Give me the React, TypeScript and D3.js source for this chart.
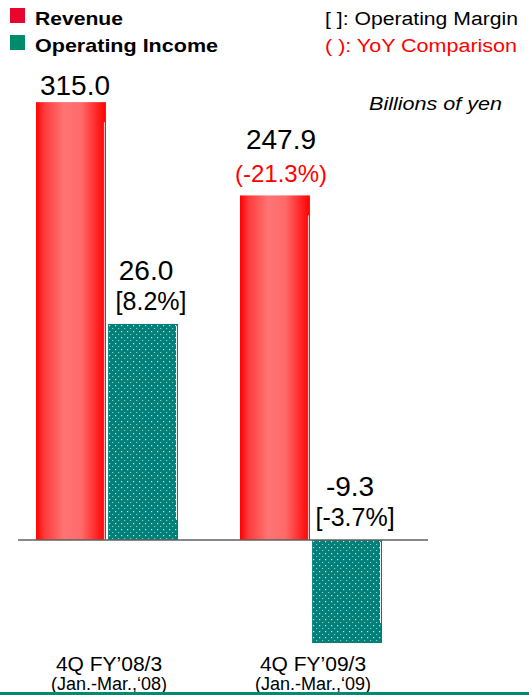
import React from "react";
import * as d3 from "d3";

const categories = ["4Q FY’08/3", "4Q FY’09/3"];
const periods = ["(Jan.-Mar.,‘08)", "(Jan.-Mar.,‘09)"];
const series = ["Revenue", "Operating Income"];
const revenue = [315.0, 247.9];
const revenueYoY: (number | null)[] = [null, -21.3];
const operatingIncome = [26.0, -9.3];
const operatingMargin = [8.2, -3.7];

const W = 529;
const H = 695;
const BASE = 540;
const FONT = "Arial, 'Liberation Sans', Helvetica, sans-serif";

export default function App() {
  const x0 = d3.scaleBand<string>().domain(categories).range([5, 413]).paddingInner(0.304).paddingOuter(0.152);
  const x1 = d3.scaleBand<string>().domain(series).range([0, x0.bandwidth()]).paddingInner(0.03);
  const yRev = d3.scaleLinear().domain([0, 350]).range([BASE, BASE - 350 * 1.39]);
  const yOp = d3.scaleLinear().domain([-10, 0, 30]).range([BASE + 10 * 11.08, BASE, BASE - 30 * 8.31]);

  const f1 = d3.format(".1f");
  const fmt = (v: number) => f1(v).replace("\u2212", "-");
  const pct = (v: number) => `${fmt(v)}%`;

  return (
    <svg width={W} height={H} style={{ position: "absolute", left: 0, top: 0, display: "block", background: "#fff" }} fontFamily={FONT}>
      <defs>
        <linearGradient id="redGrad" x1="0" x2="1" y1="0" y2="0">
          <stop offset="0%" stopColor="#ff0000" />
          <stop offset="12%" stopColor="#ff3a3a" />
          <stop offset="40%" stopColor="#ff7474" />
          <stop offset="65%" stopColor="#ff6a6a" />
          <stop offset="88%" stopColor="#ff2222" />
          <stop offset="100%" stopColor="#ff0000" />
        </linearGradient>
        <pattern id="dots" width="6" height="6" patternUnits="userSpaceOnUse">
          <rect width="6" height="6" fill="#008078" />
          <rect x="1" y="1" width="1.2" height="1.2" fill="#c8e8e2" />
          <rect x="4" y="4" width="1.2" height="1" fill="#90cdc4" />
        </pattern>
      </defs>

      {/* Legend */}
      <rect x={10} y={8} width={15} height={15} fill="#e8062c" />
      <text x={35} y={25} fontSize={18} fontWeight="bold" textLength={88} lengthAdjust="spacingAndGlyphs">Revenue</text>
      <rect x={10} y={35} width={15} height={15} fill="#008c6c" />
      <text x={35} y={52} fontSize={19} fontWeight="bold" textLength={183} lengthAdjust="spacingAndGlyphs">Operating Income</text>

      <text x={325} y={25} fontSize={18} textLength={193} lengthAdjust="spacingAndGlyphs">[ ]: Operating Margin</text>
      <text x={325} y={52} fontSize={18} fill="#ff0000" textLength={192} lengthAdjust="spacingAndGlyphs">( ): YoY Comparison</text>
      <text x={369} y={110} fontSize={18} fontStyle="italic" textLength={133} lengthAdjust="spacingAndGlyphs">Billions of yen</text>

      {categories.map((c, i) => {
        const gx = x0(c)!;
        const rx = gx + x1("Revenue")!;
        const ox = gx + x1("Operating Income")!;
        const bw = x1.bandwidth();
        const rv = revenue[i];
        const ov = operatingIncome[i];
        const rTop = yRev(rv);
        const oTop = Math.min(yOp(ov), yOp(0));
        const oBot = Math.max(yOp(ov), yOp(0));
        const yoy = revenueYoY[i];
        const rLabelY = rTop - 13;
        const oLabelY = oTop - 14;
        return (
          <g key={c}>
            <rect x={rx} y={rTop} width={bw} height={yRev(0) - rTop} fill="url(#redGrad)" />
            <line x1={rx + bw - 1.5} x2={rx + bw - 1.5} y1={rTop + 20} y2={yRev(0)} stroke="#ffd0d0" strokeWidth={1} />
            <rect x={ox} y={oTop} width={bw} height={oBot - oTop} fill="url(#dots)" />
            <line x1={ox + bw - 1.5} x2={ox + bw - 1.5} y1={oTop + 2} y2={oBot - 20} stroke="#e8f4f2" strokeWidth={1} />

            {yoy === null ? (
              <text x={rx + bw / 2 + 4} y={rTop - 7} fontSize={28} textAnchor="middle">{fmt(rv)}</text>
            ) : (
              <>
                <text x={rx + bw / 2 + 6} y={rLabelY - 33} fontSize={28} textAnchor="middle">{fmt(rv)}</text>
                <text x={rx + bw / 2 + 6} y={rLabelY} fontSize={24} textAnchor="middle" fill="#ff0000">({pct(yoy)})</text>
              </>
            )}
            <text x={ox + bw / 2 + 3} y={oLabelY - 30} fontSize={28} textAnchor="middle">{fmt(ov)}</text>
            <text x={ox + bw / 2 + 8} y={oLabelY} fontSize={25} textAnchor="middle">[{pct(operatingMargin[i])}]</text>

            <text x={gx + x0.bandwidth() / 2 + 2} y={671} fontSize={21} textAnchor="middle">{c}</text>
            <text x={gx + x0.bandwidth() / 2 + 2} y={690} fontSize={18} textAnchor="middle">{periods[i]}</text>
          </g>
        );
      })}

      <line x1={18} x2={428} y1={BASE} y2={BASE} stroke="#606060" strokeWidth={1.5} />
      <rect x={0} y={692} width={W} height={3} fill="#008c6c" />
    </svg>
  );
}
